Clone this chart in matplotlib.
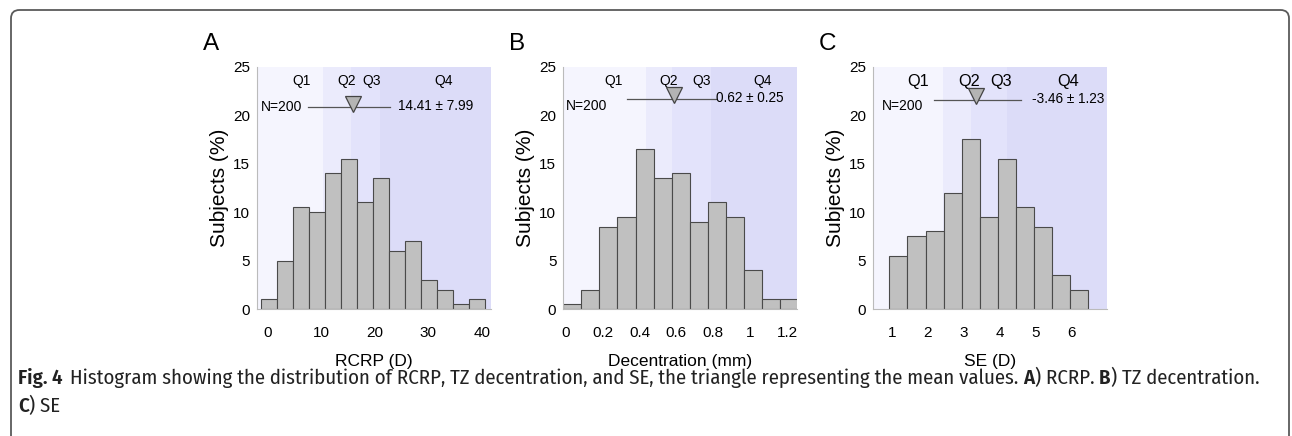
import numpy as np
import matplotlib
matplotlib.use("Agg")
import matplotlib.pyplot as plt
from matplotlib.patches import FancyBboxPatch

# datos (% de sujetos por bin)
rcrp_pct = [1.0, 5.0, 10.5, 10.0, 14.0, 15.5, 11.0, 13.5, 6.0, 7.0, 3.0, 2.0, 0.5, 1.0]
dec_pct = [0.5, 2.0, 8.5, 9.5, 16.5, 13.5, 14.0, 9.0, 11.0, 9.5, 4.0, 1.0, 1.0]
se_pct = [5.5, 7.5, 8.0, 12.0, 17.5, 9.5, 15.5, 10.5, 8.5, 3.5, 2.0]

# primer borde y ancho de bin
rcrp_bin = (-1.23, 2.985)
dec_bin = (-0.013, 0.0979)
se_bin = (0.933, 0.502)

# limites de cuartiles (Q1|Q2, Q2|Q3, Q3|Q4)
rcrp_q = [10.3, 15.6, 20.9]
dec_q = [0.438, 0.574, 0.79]
se_q = [2.43, 3.19, 4.19]

# media (triangulo) y extremos de la linea
rcrp_mean = 15.9
rcrp_line = [7.65, 22.76]
dec_mean = 0.586
dec_line = [0.334, 0.817]
se_mean = 3.34
se_line = [2.16, 4.58]

rcrp_txt = "14.41 \u00b1 7.99"
dec_txt = "0.62 \u00b1 0.25"
se_txt = "-3.46 \u00b1 1.23"

xlabels = ["RCRP (D)", "Decentration (mm)", "SE (D)"]
panel_letters = ["A", "B", "C"]
xticks_list = [[0, 10, 20, 30, 40], [0, 0.2, 0.4, 0.6, 0.8, 1, 1.2], [1, 2, 3, 4, 5, 6]]
xtick_lbls = [["0", "10", "20", "30", "40"], ["0", "0.2", "0.4", "0.6", "0.8", "1", "1.2"],
              ["1", "2", "3", "4", "5", "6"]]
xlims = [(-2.0, 41.6), (-0.013, 1.256), (0.47, 6.97)]
q_labels = ["Q1", "Q2", "Q3", "Q4"]
q_pos = [[6.3, 14.8, 19.5, 32.8], [0.258, 0.556, 0.736, 1.07], [1.74, 3.16, 4.04, 5.9]]

q_colors = ["#f5f5fe", "#ebebfc", "#e3e3fb", "#dcdcf8"]

caption1 = [("Fig. 4", "semibold"), ("  ", None),
            ("Histogram showing the distribution of RCRP, TZ decentration, and SE, the triangle "
             "representing the mean values. ", "normal"),
            ("A", "semibold"), (") RCRP. ", "normal"), ("B", "semibold"), (") TZ decentration.", "normal")]
caption2 = [("C", "semibold"), (") SE", "normal")]

plt.rcParams['font.family'] = ['Liberation Sans', 'DejaVu Sans']
CAP = ['Fira Sans Condensed', 'DejaVu Sans']

W, H = 1292, 436
fig = plt.figure(figsize=(W / 100, H / 100), dpi=100)

# marco redondeado (abierto por abajo)
frame = FancyBboxPatch((11 / W, -0.2), 1278 / W, (H - 10) / H + 0.2,
                       boxstyle="round,pad=0,rounding_size=0.0065",
                       transform=fig.transFigure, fill=False, ec="#5a5a5a", lw=1.3,
                       mutation_aspect=W / H)
fig.patches.append(frame)

lefts = [256.7, 563.3, 872.7]
datos = [(rcrp_pct, rcrp_bin, rcrp_q, rcrp_mean, rcrp_line, rcrp_txt),
         (dec_pct, dec_bin, dec_q, dec_mean, dec_line, dec_txt),
         (se_pct, se_bin, se_q, se_mean, se_line, se_txt)]

for i in range(3):
    pct, b, q, mean, line, txt = datos[i]
    ax = fig.add_axes([lefts[i] / W, 1 - 309 / H, 234 / W, 242.3 / H])
    x0, x1 = xlims[i]
    bordes = [x0] + q + [x1]
    for k in range(4):
        ax.axvspan(bordes[k], bordes[k + 1], color=q_colors[k], lw=0, zorder=0)
    edges = b[0] + b[1] * np.arange(len(pct))
    ax.bar(edges, pct, width=b[1], align='edge', color="#c0c0c0", ec="#4a4a4a", lw=0.8, zorder=2)
    ax.set_xlim(x0, x1)
    ax.set_ylim(0, 25)
    ax.set_yticks([0, 5, 10, 15, 20, 25])
    ax.set_xticks(xticks_list[i])
    ax.set_xticklabels(xtick_lbls[i])
    ax.tick_params(length=0, labelsize=11)
    ax.tick_params(axis='x', pad=12)
    ax.tick_params(axis='y', pad=5)
    for s in ["top", "right"]:
        ax.spines[s].set_visible(False)
    ax.spines["left"].set_color("#bbbbbb")
    ax.spines["bottom"].set_color("#bbbbbb")
    ax.set_ylabel("Subjects (%)", fontsize=15, labelpad=3)
    ax.set_xlabel(xlabels[i], fontsize=12.5, labelpad=10)

    # etiquetas de cuartil
    qfs = 11.7 if i == 2 else 10
    for k in range(4):
        ax.text(q_pos[i][k], 23.5, q_labels[k], ha='center', va='center', fontsize=qfs, zorder=3)

    ly = [20.8, 21.7, 21.6][i]
    ax.plot(line, [ly, ly], color="#555555", lw=0.9, zorder=3)
    ax.plot([mean], [ly + 0.35], marker='v', ms=11, mfc="#b4b4b4", mec="#444444", mew=0.9, zorder=4)
    nx = [-1.2, 0.0, 0.72][i]
    ax.text(nx, 20.9 if i > 0 else ly, "N=200", ha='left', va='center', fontsize=10, zorder=3)
    tx = [24.4, 0.814, 4.89][i]
    ax.text(tx, ly + 0.1, txt, ha='left', va='center', fontsize=9.8, zorder=3)

    fig.text((lefts[i] - 54) / W, 1 - 44 / H, panel_letters[i], fontsize=17.5,
             ha='left', va='center')

# leyenda de la figura, ajustada al ancho de la primera linea
renderer = fig.canvas.get_renderer()
prueba = fig.text(0, 0, "".join(t for t, _ in caption1), fontsize=12, family=CAP)
ancho = prueba.get_window_extent(renderer).width
prueba.remove()
cap_fs = 12 * (1252 / ancho)


def escribir(runs, x_px, y_px):
    for t, w in runs:
        if w is None:
            x_px += 4 * len(t)
            continue
        obj = fig.text(x_px / W, 1 - y_px / H, t, fontsize=cap_fs, family=CAP,
                       weight=w, ha='left', va='baseline', color="#222222")
        x_px += obj.get_window_extent(renderer).width


escribir(caption1, 18, 384)
escribir(caption2, 18, 412)

fig.savefig("out.png", dpi=100)
